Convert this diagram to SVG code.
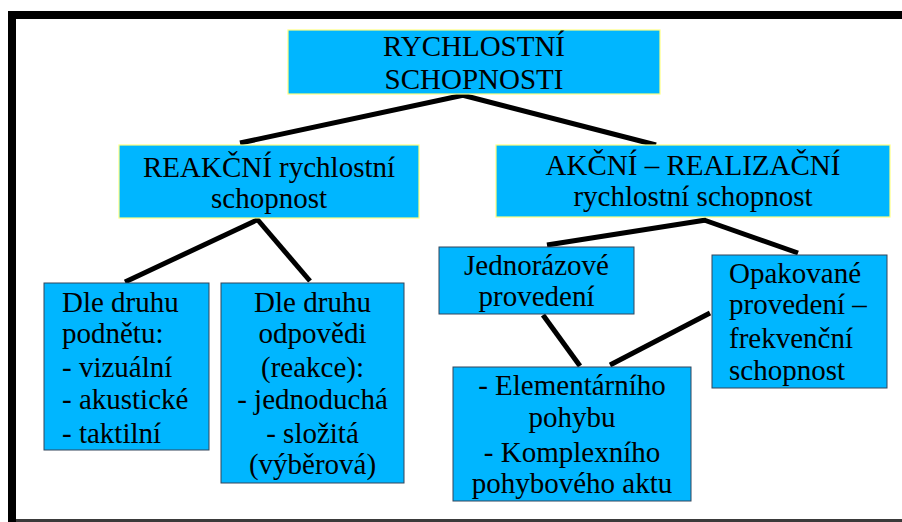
<svg xmlns="http://www.w3.org/2000/svg" width="902" height="522" viewBox="0 0 902 522">
<style>
.box{fill:#00b6ff;stroke:#33445a;stroke-width:1}
.ybox{fill:#00b6ff;stroke:#ffff80;stroke-width:1.2}
text{font-family:"Liberation Serif","Times New Roman",serif;font-size:29px;fill:#000}
.c{text-anchor:middle}
.conn line{stroke:#000;stroke-width:5;stroke-linecap:butt}
</style>
<rect x="0" y="0" width="902" height="522" fill="#fff"/>
<g id="frame">
<rect x="8" y="11" width="894" height="8" fill="#000"/>
<rect x="8" y="11" width="8" height="511" fill="#000"/>
<rect x="16" y="519" width="886" height="3" fill="#3a3a3a"/>
</g>
<g class="conn" id="connectors">
<line x1="464" y1="95" x2="240" y2="143"/>
<line x1="462" y1="95" x2="656" y2="145"/>
<line x1="259" y1="219" x2="125" y2="282"/>
<line x1="257" y1="219" x2="310" y2="281"/>
<line x1="706" y1="220" x2="547" y2="245"/>
<line x1="704" y1="220" x2="798" y2="253"/>
<line x1="543" y1="315" x2="580" y2="366"/>
<line x1="710" y1="313" x2="610" y2="365"/>
</g>
<g id="n-root">
<rect class="ybox" x="288" y="30" width="372" height="64"/>
<text class="c" x="474" y="56">RYCHLOSTNÍ</text>
<text class="c" x="474" y="89">SCHOPNOSTI</text>
</g>
<g id="n-reakcni">
<rect class="ybox" x="119" y="145" width="300" height="73"/>
<text class="c" x="269" y="177">REAKČNÍ rychlostní</text>
<text class="c" x="269" y="208">schopnost</text>
</g>
<g id="n-akcni">
<rect class="ybox" x="496" y="145" width="394" height="72"/>
<text class="c" x="693" y="175">AKČNÍ – REALIZAČNÍ</text>
<text class="c" x="693" y="206">rychlostní schopnost</text>
</g>
<g id="n-podnet">
<rect class="box" x="44" y="283" width="165" height="167"/>
<text x="62" y="312">Dle druhu</text>
<text x="62" y="343">podnětu:</text>
<text x="62" y="377">- vizuální</text>
<text x="62" y="409">- akustické</text>
<text x="62" y="443">- taktilní</text>
</g>
<g id="n-odpoved">
<rect class="box" x="221" y="283" width="183" height="200"/>
<text class="c" x="312.5" y="312">Dle druhu</text>
<text class="c" x="312.5" y="343">odpovědi</text>
<text class="c" x="312.5" y="377">(reakce):</text>
<text class="c" x="312.5" y="409">- jednoduchá</text>
<text class="c" x="312.5" y="443">- složitá</text>
<text class="c" x="312.5" y="474">(výběrová)</text>
</g>
<g id="n-jednorazove">
<rect class="box" x="439" y="247" width="195" height="67"/>
<text class="c" x="536.5" y="275">Jednorázové</text>
<text class="c" x="536.5" y="306">provedení</text>
</g>
<g id="n-opakovane">
<rect class="box" x="712" y="255" width="175" height="133"/>
<text x="729" y="283">Opakované</text>
<text x="729" y="314">provedení –</text>
<text x="729" y="348">frekvenční</text>
<text x="729" y="380">schopnost</text>
</g>
<g id="n-elementarni">
<rect class="box" x="453" y="367" width="238" height="134"/>
<text class="c" x="572" y="395">- Elementárního</text>
<text class="c" x="572" y="427">pohybu</text>
<text class="c" x="572" y="462">- Komplexního</text>
<text class="c" x="572" y="493">pohybového aktu</text>
</g>
</svg>
